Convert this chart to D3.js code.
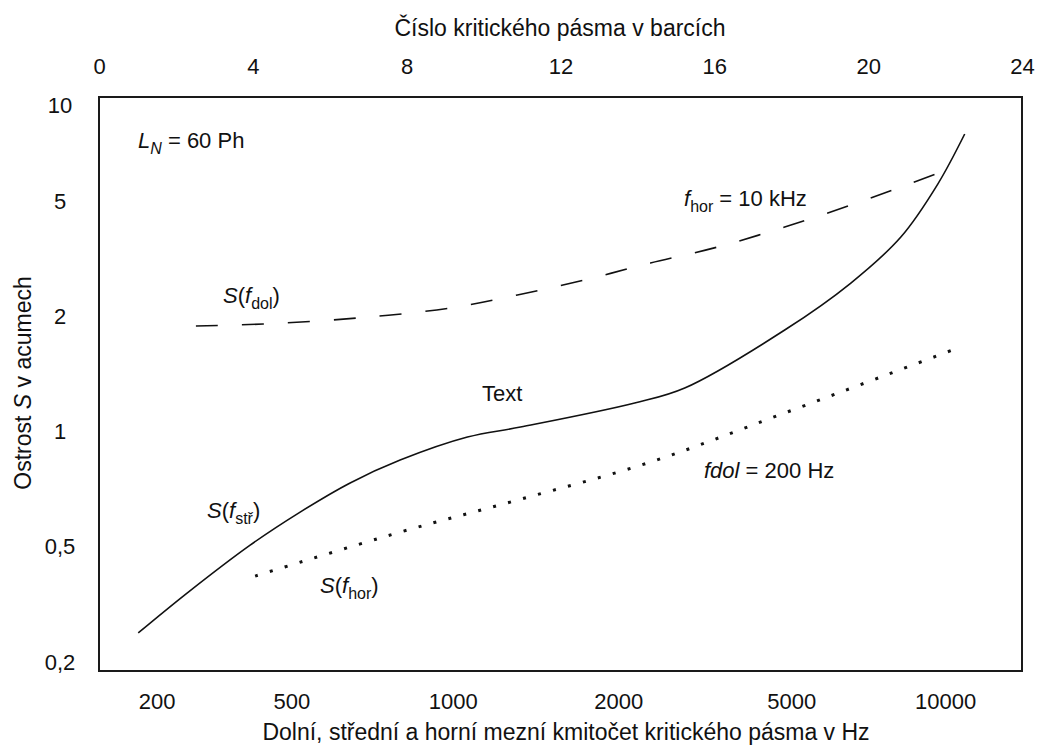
<!DOCTYPE html>
<html>
<head>
<meta charset="utf-8">
<script src="https://cdn.jsdelivr.net/npm/d3@7"></script>
<style>
  html, body { margin: 0; padding: 0; background: #fff; }
  svg { display: block; font-family: "Liberation Sans", Arial, sans-serif; }
  text { fill: #111; }
</style>
</head>
<body>
<svg id="chart" width="1037" height="749"></svg>
<script>
// Critical-band number (Bark) ticks along the top
const barkTicks = [0, 4, 8, 12, 16, 20, 24];

// Frequency labels along the bottom and the band number each one sits at
const freqTicks = [200, 500, 1000, 2000, 5000, 10000];
const freqTickBark = [1.5, 5.0, 9.2, 13.5, 18.0, 22.0];

// Sharpness ticks (acum)
const sharpTicks = [0.2, 0.5, 1, 2, 5, 10];

// S(f_stř): centre frequency varied — band number and sharpness
const centreBark  = [1.02, 2.29, 3.93, 5.23, 6.53, 7.83, 9.58, 10.96, 13.93, 15.23, 17.83, 19.55, 20.85, 21.81, 22.51];
const centreSharp = [0.252, 0.346, 0.505, 0.616, 0.734, 0.842, 0.967, 1.027, 1.187, 1.299, 1.841, 2.605, 3.755, 5.65, 8.11];

// S(f_dol): lower edge varied, upper edge fixed at 10 kHz
const lowerBark  = [2.52, 4.27, 6.72, 9.14, 10.88, 12.62, 14.34, 16.09, 17.83, 19.55, 20.85, 21.89];
const lowerSharp = [1.886, 1.909, 1.979, 2.136, 2.368, 2.668, 3.054, 3.469, 4.067, 4.84, 5.53, 6.16];

// S(f_hor): upper edge varied, lower edge fixed at 200 Hz
const upperBark  = [4.06, 7.83, 10.88, 14.34, 17.83, 22.33];
const upperSharp = [0.396, 0.546, 0.662, 0.832, 1.118, 1.652];

const svg = d3.select("#chart");
const frameLeft = 99, frameTop = 97, frameRight = 1022, frameBottom = 671;

// Band number -> horizontal position
const x = d3.scaleLinear().domain([0, 24]).range([frameLeft, frameRight]);

// Frequency -> band number (piecewise log between labelled frequencies)
const freqToBark = d3.scaleLog().domain(freqTicks).range(freqTickBark);

// Sharpness -> vertical position: labelled values evenly spaced, top label just inside the frame
const yBase = 662, yStep = 115.25;
const y = d3.scaleLog()
  .domain(sharpTicks)
  .range(sharpTicks.map((d, i) => i < sharpTicks.length - 1 ? yBase - i * yStep : frameTop + 8));

// Frame
svg.append("rect")
  .attr("x", frameLeft).attr("y", frameTop)
  .attr("width", frameRight - frameLeft).attr("height", frameBottom - frameTop)
  .attr("fill", "none").attr("stroke", "#1a1a1a").attr("stroke-width", 2);

const fontSize = 22;
const titleSize = 23;
const fontFamily = "Liberation Sans, Arial, sans-serif";

// Top axis: band numbers
const gTop = svg.append("g").attr("transform", `translate(0,${frameTop})`)
  .call(d3.axisTop(x).tickValues(barkTicks).tickSize(0).tickPadding(23).tickFormat(d3.format("d")));
gTop.select(".domain").remove();
gTop.selectAll("text").attr("font-size", fontSize).attr("font-family", fontFamily).attr("fill", "#111");

// Bottom axis: frequencies, placed at their band numbers
const gBot = svg.append("g").attr("transform", `translate(0,${frameBottom})`)
  .call(d3.axisBottom(x)
    .tickValues(freqTicks.map(f => freqToBark(f))).tickSize(0).tickPadding(22)
    .tickFormat((d, i) => String(freqTicks[i])));
gBot.select(".domain").remove();
gBot.selectAll("text").attr("font-size", fontSize).attr("font-family", fontFamily).attr("fill", "#111");

// Left axis: sharpness
const gLeft = svg.append("g").attr("transform", `translate(${frameLeft},0)`)
  .call(d3.axisLeft(y).tickValues(sharpTicks).tickSize(0)
    .tickFormat(d => String(d).replace(".", ",")));
gLeft.select(".domain").remove();
gLeft.selectAll("text").attr("font-size", fontSize).attr("font-family", fontFamily)
  .attr("fill", "#111").attr("text-anchor", "middle").attr("x", -39);

// Axis titles
svg.append("text").attr("x", 560).attr("y", 36).attr("text-anchor", "middle")
  .attr("font-size", titleSize).text("Číslo kritického pásma v barcích");

svg.append("text").attr("x", 566).attr("y", 740).attr("text-anchor", "middle")
  .attr("font-size", titleSize).text("Dolní, střední a horní mezní kmitočet kritického pásma v Hz");

const yTitle = svg.append("text")
  .attr("transform", "translate(31,383) rotate(-90)")
  .attr("text-anchor", "middle").attr("font-size", titleSize);
yTitle.append("tspan").text("Ostrost ");
yTitle.append("tspan").attr("font-style", "italic").text("S");
yTitle.append("tspan").text(" v acumech");

// Curves
const line = d3.line().x(d => x(d[0])).y(d => y(d[1])).curve(d3.curveCatmullRom.alpha(0.5));

const centre = d3.zip(centreBark, centreSharp);
const lower = d3.zip(lowerBark, lowerSharp);
const upper = d3.zip(upperBark, upperSharp);

svg.append("path").datum(centre).attr("d", line)
  .attr("fill", "none").attr("stroke", "#111").attr("stroke-width", 1.6);

svg.append("path").datum(lower).attr("d", line)
  .attr("fill", "none").attr("stroke", "#111").attr("stroke-width", 1.6)
  .attr("stroke-dasharray", "22 24");

svg.append("path").datum(upper).attr("d", line)
  .attr("fill", "none").attr("stroke", "#111").attr("stroke-width", 3)
  .attr("stroke-dasharray", "3 12.5");

// Annotations (subscripts dropped below the baseline, then restored)
function label(px, py, parts) {
  const t = svg.append("text").attr("x", px).attr("y", py).attr("font-size", fontSize);
  parts.forEach(p => {
    const s = t.append("tspan").text(p.t);
    if (p.i) s.attr("font-style", "italic");
    if (p.sub) s.attr("font-size", 16).attr("dy", 6);
    if (p.up) s.attr("dy", -6);
  });
  return t;
}

label(138, 148, [{t: "L", i: true}, {t: "N", i: true, sub: true}, {t: " = 60 Ph", up: true}]);
label(684, 206, [{t: "f", i: true}, {t: "hor", sub: true}, {t: " = 10 kHz", up: true}]);
label(223, 303, [{t: "S", i: true}, {t: "("}, {t: "f", i: true}, {t: "dol", sub: true}, {t: ")", up: true}]);
label(482, 401, [{t: "Text"}]);
label(704, 478, [{t: "fdol", i: true}, {t: " = 200 Hz"}]);
label(207, 518, [{t: "S", i: true}, {t: "("}, {t: "f", i: true}, {t: "stř", sub: true}, {t: ")", up: true}]);
label(320, 593, [{t: "S", i: true}, {t: "("}, {t: "f", i: true}, {t: "hor", sub: true}, {t: ")", up: true}]);
</script>
</body>
</html>
